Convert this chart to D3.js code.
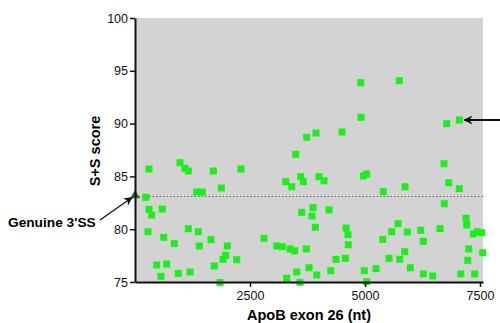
<!DOCTYPE html>
<html>
<head>
<meta charset="utf-8">
<script src="https://cdn.jsdelivr.net/npm/d3@7"></script>
<style>
  body { margin: 0; background: #fff; }
  svg { display: block; font-family: "Liberation Sans", Arial, sans-serif; }
</style>
</head>
<body>
<svg id="chart" width="500" height="323"></svg>
<script>
// position in ApoB exon 26 (nt) and S+S score
const nt = [304, 978, 1087, 1159, 1702, 2304, 1341, 1463, 1876, 239, 304, 363, 593, 283, 624, 854, 1159, 1376, 1398, 1652,
  2007, 1972, 1913, 2211, 472, 689, 565, 941, 1196, 1724, 1848,
  3494, 3276, 3407, 3602, 3659, 4000, 4109, 4963, 5037, 3624, 3870, 3848, 4218, 3920, 2804, 3081, 3202, 3370, 3472, 3724,
  4587, 4631, 4637, 4370, 4572, 3783, 3515, 3298, 3950, 4255, 3587, 4985, 5037,
  6718, 6820, 7050, 5398, 5870, 6724, 7196, 7211, 5718, 5581, 5920, 6211, 6631, 5385, 6268, 7355, 7442, 7537, 7255, 5863,
  5522, 5755, 7233, 7559, 5985, 5239, 6268, 6472, 7081, 7385,
  4907, 5746, 4913, 7050, 6776, 3733, 3935, 4500];
const score = [85.70, 86.30, 85.77, 85.51, 85.51, 85.70, 83.52, 83.52, 83.90, 83.02, 81.88, 81.34, 81.91, 79.76, 79.23, 78.63, 80.05, 79.76, 78.41, 79.01,
  78.41, 77.53, 77.15, 77.11, 76.61, 76.70, 75.54, 75.82, 75.95, 76.52, 74.95,
  87.09, 84.50, 84.02, 84.97, 84.50, 84.97, 84.59, 85.04, 85.23, 81.60, 82.04, 81.25, 81.82, 80.18, 79.14, 78.41, 78.34, 78.13, 77.94, 78.13,
  80.11, 79.48, 78.53, 77.15, 77.24, 76.35, 75.95, 75.35, 75.66, 76.07, 74.97, 76.07, 75.03,
  86.20, 84.40, 83.84, 83.55, 84.02, 82.41, 81.03, 80.40, 80.52, 79.76, 79.73, 79.90, 80.05, 79.04, 78.85, 79.55, 79.76, 79.67, 78.13, 77.87,
  77.24, 77.15, 77.05, 77.77, 76.35, 76.26, 75.76, 75.57, 75.76, 75.76,
  93.87, 94.06, 90.60, 90.34, 89.99, 88.70, 89.11, 89.20];

// the genuine 3' splice site
const genuineNt = 0;
const genuineScore = 83.1;
// the site marked by the arrow on the right
const markedNt = 7050;
const markedScore = 90.34;

const xTicks = [2500, 5000, 7500];
const yTicks = [75, 80, 85, 90, 95, 100];

const margin = { top: 18, left: 135 };
const width = 348, height = 264;

const svg = d3.select('#chart');
const g = svg.append('g').attr('transform', `translate(${margin.left},${margin.top})`);

const x = d3.scaleLinear().domain([0, 7565]).range([0, width]);
const y = d3.scaleLinear().domain([75, 100]).range([height, 0]);

// grey plot background
g.append('rect')
  .attr('width', width).attr('height', height)
  .attr('fill', '#d3d3d3');

// dotted threshold at genuine site score
g.append('line')
  .attr('x1', 0).attr('x2', width)
  .attr('y1', y(genuineScore)).attr('y2', y(genuineScore))
  .attr('stroke', '#666').attr('stroke-width', 1)
  .attr('stroke-dasharray', '1.5,2');

const pts = nt.map((d, i) => ({ nt: d, score: score[i] }));
const sz = 7;
g.append('g').selectAll('rect')
  .data(pts)
  .enter().append('rect')
  .attr('x', d => x(d.nt) - sz / 2)
  .attr('y', d => y(d.score) - sz / 2)
  .attr('width', sz).attr('height', sz)
  .attr('fill', '#1af01a');

// genuine site triangle
g.append('path')
  .attr('d', d3.symbol(d3.symbolTriangle, 40))
  .attr('transform', `translate(${x(genuineNt)},${y(genuineScore) - 1})`)
  .attr('fill', '#1d6b1d');

// axes
const yAxis = d3.axisLeft(y).tickValues(yTicks).tickSize(5).tickSizeOuter(0).tickPadding(2);
const xAxis = d3.axisBottom(x).tickValues(xTicks).tickFormat(d3.format('d'))
  .tickSize(5).tickSizeOuter(0).tickPadding(4);

const ya = g.append('g').call(yAxis);
const xa = g.append('g').attr('transform', `translate(0,${height})`).call(xAxis);
[ya, xa].forEach(a => {
  a.select('.domain').attr('stroke', '#111').attr('stroke-width', 2);
  a.selectAll('.tick line').attr('stroke', '#111').attr('stroke-width', 1.5);
  a.selectAll('text').attr('font-size', '12.5px').attr('fill', '#111')
    .attr('font-family', '"Liberation Sans", Arial, sans-serif');
});

// axis titles
svg.append('text')
  .text('ApoB exon 26 (nt)')
  .attr('x', 309).attr('y', 320)
  .attr('text-anchor', 'middle')
  .attr('font-size', '14.5px').attr('font-weight', 'bold');

svg.append('text')
  .text('S+S score')
  .attr('transform', 'translate(100,151) rotate(-90)')
  .attr('text-anchor', 'middle')
  .attr('font-size', '14.5px').attr('font-weight', 'bold');

// arrowheads
const defs = svg.append('defs');
defs.append('marker')
  .attr('id', 'head')
  .attr('viewBox', '0 0 10 10')
  .attr('refX', 9).attr('refY', 5)
  .attr('markerWidth', 10).attr('markerHeight', 9)
  .attr('markerUnits', 'userSpaceOnUse')
  .attr('orient', 'auto')
  .append('path').attr('d', 'M0,0 L10,5 L0,10 L3,5 Z').attr('fill', '#111');

// genuine 3'SS label + arrow
svg.append('text')
  .text("Genuine 3'SS")
  .attr('x', 8).attr('y', 226.5)
  .attr('font-size', '13.7px').attr('font-weight', 'bold');

svg.append('line')
  .attr('x1', 100).attr('y1', 220)
  .attr('x2', margin.left + x(genuineNt) - 3).attr('y2', margin.top + y(genuineScore) + 1)
  .attr('stroke', '#111').attr('stroke-width', 1.3)
  .attr('marker-end', 'url(#head)');

// right arrow pointing to the marked site
svg.append('line')
  .attr('x1', 500).attr('y1', margin.top + y(markedScore))
  .attr('x2', margin.left + x(markedNt) + 5).attr('y2', margin.top + y(markedScore))
  .attr('stroke', '#111').attr('stroke-width', 2)
  .attr('marker-end', 'url(#head)');
</script>
</body>
</html>
